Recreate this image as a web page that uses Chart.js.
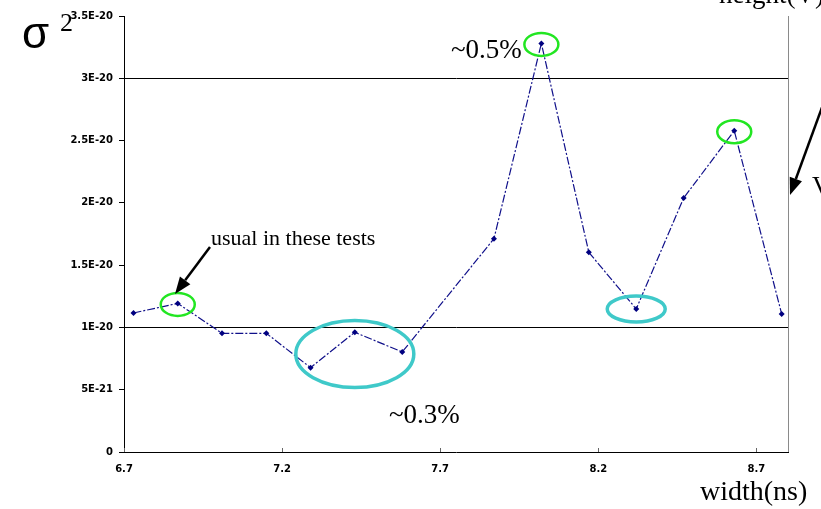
<!DOCTYPE html>
<html><head><meta charset="utf-8">
<script src="https://cdn.jsdelivr.net/npm/chart.js@4"></script>
<style>html,body{margin:0;padding:0;background:#fff;overflow:hidden}</style>
</head><body>
<canvas id="c" width="821" height="509"></canvas>
<script>
// ---- data ----
const widthNs = [6.73, 6.87, 7.01, 7.15, 7.29, 7.43, 7.58, 7.87, 8.02, 8.17, 8.32, 8.47, 8.63, 8.78];
const sigma2 = [1.116e-20, 1.193e-20, 0.953e-20, 0.953e-20, 0.677e-20, 0.961e-20, 0.803e-20, 1.712e-20, 3.28e-20, 1.603e-20, 1.148e-20, 2.039e-20, 2.579e-20, 1.108e-20];
const xTicks = [6.7, 7.2, 7.7, 8.2, 8.7];
const xTickLabels = ['6.7', '7.2', '7.7', '8.2', '8.7'];
const yTicks = [0, 0.5e-20, 1e-20, 1.5e-20, 2e-20, 2.5e-20, 3e-20, 3.5e-20];
const yTickLabels = ['0', '5E-21', '1E-20', '1.5E-20', '2E-20', '2.5E-20', '3E-20', '3.5E-20'];
const gridValues = [1e-20, 3e-20];
const greenCircled = [1, 8, 12];          // indices of points circled in green
const cyanCircledSmall = [10];            // index circled in cyan (small)
const cyanBigCenter = [7.43, 0.787e-20];  // centre of the big cyan ellipse (data coords)

const points = widthNs.map((x, i) => ({x: x, y: sigma2[i]}));

const near = (a, b) => Math.abs(a - b) < 1e-24;

function arrow(ctx, x1, y1, x2, y2, hl, hw, lw) {
  const a = Math.atan2(y2 - y1, x2 - x1);
  const bx = x2 - hl * Math.cos(a), by = y2 - hl * Math.sin(a);
  ctx.save();
  ctx.strokeStyle = '#000'; ctx.fillStyle = '#000'; ctx.lineWidth = lw;
  ctx.beginPath(); ctx.moveTo(x1, y1); ctx.lineTo(bx, by); ctx.stroke();
  ctx.beginPath();
  ctx.moveTo(x2, y2);
  ctx.lineTo(bx + hw / 2 * Math.sin(a), by - hw / 2 * Math.cos(a));
  ctx.lineTo(bx - hw / 2 * Math.sin(a), by + hw / 2 * Math.cos(a));
  ctx.closePath(); ctx.fill();
  ctx.restore();
}

function ellipse(ctx, cx, cy, rx, ry, color, lw) {
  ctx.save();
  ctx.strokeStyle = color; ctx.lineWidth = lw;
  ctx.beginPath(); ctx.ellipse(cx, cy, rx, ry, 0, 0, Math.PI * 2); ctx.stroke();
  ctx.restore();
}

const decor = {
  id: 'decor',
  beforeDatasetsDraw(chart) {
    const {ctx, chartArea: ca} = chart;
    ctx.save();
    // right border (gray)
    ctx.strokeStyle = '#8a8a8a'; ctx.lineWidth = 1;
    ctx.beginPath(); ctx.moveTo(Math.round(ca.right) + 0.5, ca.top); ctx.lineTo(Math.round(ca.right) + 0.5, ca.bottom); ctx.stroke();
    // inward x ticks
    const xs = chart.scales.x;
    ctx.strokeStyle = '#666';
    xTicks.forEach(v => {
      const px = Math.round(xs.getPixelForValue(v)) + 0.5;
      ctx.beginPath(); ctx.moveTo(px, ca.bottom); ctx.lineTo(px, ca.bottom - 4); ctx.stroke();
    });
    ctx.restore();
  },
  afterDraw(chart) {
    const {ctx} = chart;
    const xs = chart.scales.x, ys = chart.scales.y;
    // ellipses
    greenCircled.forEach(i => {
      ellipse(ctx, xs.getPixelForValue(widthNs[i]), ys.getPixelForValue(sigma2[i]) + 1, 17, 11.5, '#22e622', 2.5);
    });
    cyanCircledSmall.forEach(i => {
      ellipse(ctx, xs.getPixelForValue(widthNs[i]), ys.getPixelForValue(sigma2[i]), 29, 13, '#3fc9c9', 3.5);
    });
    ellipse(ctx, xs.getPixelForValue(cyanBigCenter[0]), ys.getPixelForValue(cyanBigCenter[1]), 59, 33.5, '#3fc9c9', 3.5);

    // texts
    ctx.save();
    ctx.fillStyle = '#000';
    ctx.textBaseline = 'alphabetic';
    ctx.textAlign = 'left';
    ctx.font = '44px "Liberation Sans"';
    ctx.fillText('\u03C3', 22, 48);
    ctx.font = '26px "Liberation Serif"';
    ctx.fillText('2', 60, 31);
    ctx.font = '27px "Liberation Serif"';
    ctx.fillText('~0.5%', 451, 58);
    ctx.fillText('~0.3%', 389, 423);
    ctx.font = '22px "Liberation Serif"';
    ctx.fillText('usual in these tests', 211, 245);
    ctx.font = '28px "Liberation Serif"';
    ctx.fillText('width(ns)', 700, 500);
    ctx.font = '27px "Liberation Serif"';
    ctx.fillText('height(V)', 719, 3);
    ctx.font = '26px "Liberation Serif"';
    ctx.fillText('V', 812, 194);
    ctx.restore();

    // arrows
    arrow(ctx, 210, 247, 175, 294, 17, 13, 2.5);
    arrow(ctx, 824, 102, 790, 195, 17, 13, 2.5);
  }
};

new Chart(document.getElementById('c'), {
  type: 'scatter',
  data: {
    datasets: [{
      data: points,
      showLine: true,
      borderColor: '#10108a',
      borderWidth: 1.2,
      borderDash: [8, 2, 2, 2],
      tension: 0,
      pointStyle: 'rectRot',
      pointRadius: 3,
      pointBackgroundColor: '#000080',
      pointBorderColor: '#000080',
      pointBorderWidth: 0
    }]
  },
  options: {
    responsive: false,
    devicePixelRatio: 1,
    animation: false,
    layout: {padding: {left: 0, top: 16, right: 33, bottom: 0}},
    plugins: {legend: {display: false}, tooltip: {enabled: false}},
    scales: {
      x: {
        type: 'linear',
        min: 6.7, max: 8.8,
        afterBuildTicks: s => { s.ticks = xTicks.map(v => ({value: v})); },
        afterFit: s => { s.height = 57; },
        ticks: {
          callback: (v, i) => xTickLabels[i],
          font: {family: '"DejaVu Sans"', size: 10, weight: 'bold'},
          color: '#000',
          padding: 11,
          maxRotation: 0,
          autoSkip: false
        },
        grid: {display: true, drawTicks: false, color: 'rgba(0,0,0,0)'},
        border: {display: true, color: '#000', width: 1}
      },
      y: {
        type: 'linear',
        min: 0, max: 3.5e-20,
        afterBuildTicks: s => { s.ticks = yTicks.map(v => ({value: v})); },
        afterFit: s => { s.width = 124; },
        ticks: {
          callback: (v, i) => yTickLabels[i],
          font: {family: '"DejaVu Sans"', size: 10, weight: 'bold'},
          color: '#000',
          padding: 6,
          autoSkip: false
        },
        grid: {
          color: c => (c.tick && gridValues.some(g => near(g, c.tick.value))) ? '#000' : 'rgba(0,0,0,0)',
          tickColor: '#000',
          tickLength: 5,
          lineWidth: 1
        },
        border: {display: true, color: '#000', width: 1}
      }
    }
  },
  plugins: [decor]
});
</script>
</body></html>
